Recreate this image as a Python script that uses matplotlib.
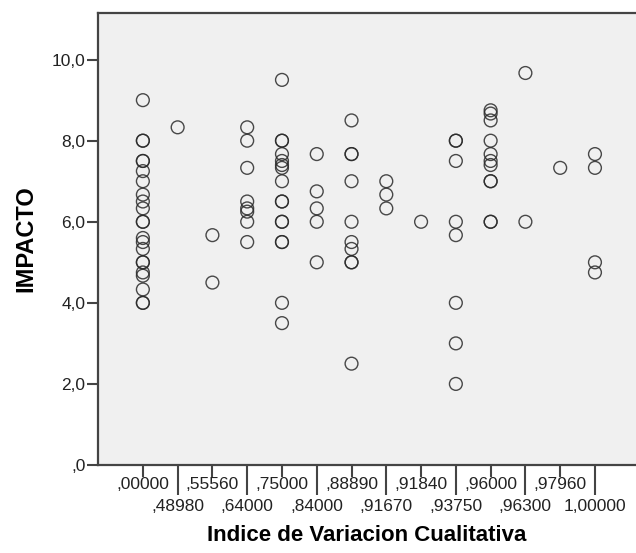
import matplotlib
matplotlib.use('Agg')
import matplotlib.pyplot as plt
import numpy as np

plt.rcParams['font.family'] = ['Liberation Sans', 'DejaVu Sans']

# categorias del eje X (Indice de Variacion Cualitativa)
categorias = [',00000', ',48980', ',55560', ',64000', ',75000', ',84000', ',88890',
              ',91670', ',91840', ',93750', ',96000', ',96300', ',97960', '1,00000']

# valores de IMPACTO por categoria
impacto_00000 = [9.0, 8.0, 8.0, 7.5, 7.5, 7.25, 7.0, 6.67, 6.5, 6.33, 6.0, 6.0,
                 5.6, 5.5, 5.33, 5.0, 5.0, 4.75, 4.67, 4.33, 4.0, 4.0]
impacto_48980 = [8.33]
impacto_55560 = [5.67, 4.5]
impacto_64000 = [8.33, 8.0, 7.33, 6.5, 6.33, 6.25, 6.0, 5.5]
impacto_75000 = [9.5, 8.0, 8.0, 7.67, 7.5, 7.4, 7.33, 7.0, 6.5, 6.5, 6.0, 6.0,
                 5.5, 5.5, 4.0, 3.5]
impacto_84000 = [7.67, 6.75, 6.33, 6.0, 5.0]
impacto_88890 = [8.5, 7.67, 7.67, 7.0, 6.0, 5.5, 5.33, 5.0, 5.0, 2.5]
impacto_91670 = [7.0, 6.67, 6.33]
impacto_91840 = [6.0]
impacto_93750 = [8.0, 8.0, 7.5, 6.0, 5.67, 4.0, 3.0, 2.0]
impacto_96000 = [8.75, 8.67, 8.5, 8.0, 7.67, 7.5, 7.4, 7.0, 7.0, 6.0, 6.0]
impacto_96300 = [9.67, 6.0]
impacto_97960 = [7.33]
impacto_100000 = [7.67, 7.33, 5.0, 4.75]

valores = [impacto_00000, impacto_48980, impacto_55560, impacto_64000, impacto_75000,
           impacto_84000, impacto_88890, impacto_91670, impacto_91840, impacto_93750,
           impacto_96000, impacto_96300, impacto_97960, impacto_100000]

fig = plt.figure(figsize=(6.36, 5.53), dpi=100)
ax = fig.add_axes([98 / 636, 1 - 465 / 553, 1 - 98 / 636, (465 - 13) / 553])
ax.set_facecolor('#f0f0f0')

# un punto por caso, x = indice de categoria
for i, vals in enumerate(valores):
    ax.scatter([i] * len(vals), vals, s=85, facecolors='none',
               edgecolors='#2a2a2a', linewidths=1.0, alpha=0.85, zorder=3)

ax.set_xlim(-1.29, 14.18)
ax.set_ylim(0, 11.15)

ax.set_yticks(np.arange(0, 11, 2))
ax.set_yticklabels([',0', '2,0', '4,0', '6,0', '8,0', '10,0'])

# etiquetas alternadas: pares arriba (tick corto), impares abajo (tick largo)
pos = np.arange(len(categorias))
ax.set_xticks(pos[::2])
ax.set_xticklabels(categorias[::2])
ax.set_xticks(pos[1::2], minor=True)
ax.set_xticklabels(categorias[1::2], minor=True)

ax.tick_params(axis='x', which='major', length=8.6, width=1.5, color='#444444',
               labelsize=12.5, pad=0, labelcolor='#222222')
ax.tick_params(axis='x', which='minor', length=21.6, width=1.5, color='#444444',
               labelsize=12.5, pad=3, labelcolor='#222222')
ax.tick_params(axis='y', length=8, width=1.5, color='#444444', labelsize=12.5,
               pad=1, labelcolor='#222222')

for s in ['left', 'bottom', 'top']:
    ax.spines[s].set_color('#444444')
    ax.spines[s].set_linewidth(1.6)
ax.spines['right'].set_visible(False)

ax.set_ylabel('IMPACTO', fontsize=17, fontweight='bold', labelpad=10)
ax.set_xlabel('Indice de Variacion Cualitativa', fontsize=16, fontweight='bold', labelpad=8)

fig.savefig('out.png', dpi=100)
